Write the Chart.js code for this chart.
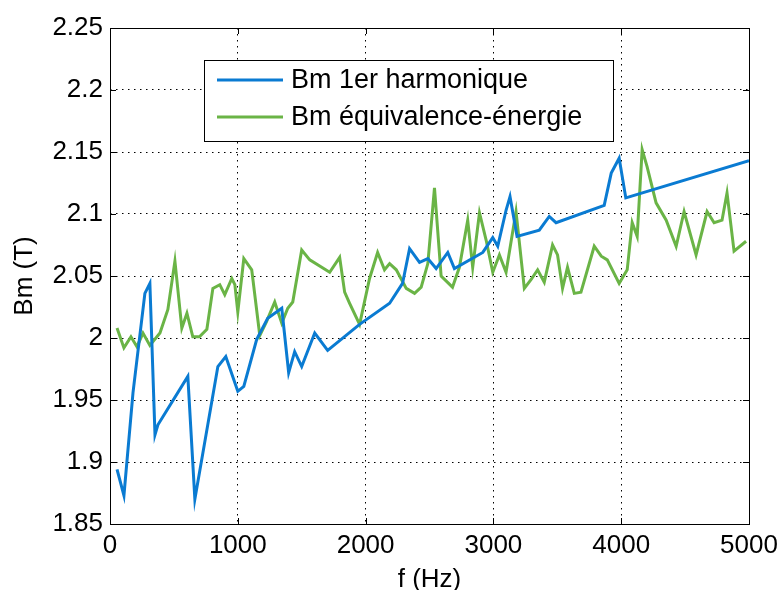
<!DOCTYPE html>
<html>
<head>
<meta charset="utf-8">
<script src="https://cdn.jsdelivr.net/npm/chart.js@4.4.1/dist/chart.umd.min.js"></script>
<style>
html,body{margin:0;padding:0;background:#fff;}
#wrap{width:781px;height:590px;position:relative;}
</style>
</head>
<body>
<div id="wrap"><canvas id="c" width="781" height="590"></canvas></div>
<script>
const seriesLabels = ["Bm 1er harmonique", "Bm équivalence-énergie"];
const freqHarm = [55,109,180,273,312,352,375,609,664,844,906,1000,1047,1148,1234,1344,1398,1445,1500,1602,1703,1953,2188,2289,2344,2422,2487,2552,2643,2695,2917,2995,3034,3099,3130,3185,3359,3437,3490,3867,3922,3984,4036,5000];
const bmHarm = [1.894,1.873,1.956,2.036,2.044,1.922,1.930,1.969,1.870,1.977,1.985,1.957,1.961,1.999,2.016,2.024,1.972,1.989,1.977,2.004,1.990,2.011,2.028,2.044,2.072,2.061,2.064,2.056,2.069,2.056,2.069,2.081,2.074,2.103,2.114,2.082,2.087,2.098,2.093,2.107,2.133,2.145,2.113,2.143];
const freqEnergy = [55,109,164,211,258,312,391,453,508,562,602,648,700,758,805,859,898,953,977,1000,1047,1109,1172,1224,1289,1344,1391,1430,1500,1563,1719,1797,1836,1875,1953,2031,2094,2148,2188,2240,2318,2383,2435,2487,2539,2591,2680,2734,2799,2838,2891,2943,2995,3047,3099,3177,3242,3294,3346,3398,3463,3502,3541,3580,3633,3685,3789,3844,3891,3984,4047,4086,4125,4164,4203,4273,4352,4430,4492,4586,4672,4727,4789,4828,4883,4977];
const bmEnergy = [2.008,1.992,2.001,1.993,2.004,1.994,2.004,2.023,2.062,2.008,2.020,2.001,2.001,2.007,2.040,2.043,2.035,2.048,2.043,2.021,2.064,2.055,2.002,2.013,2.029,2.012,2.024,2.029,2.071,2.063,2.053,2.065,2.037,2.028,2.011,2.048,2.069,2.055,2.060,2.055,2.040,2.036,2.041,2.060,2.121,2.050,2.041,2.057,2.095,2.057,2.101,2.079,2.053,2.067,2.053,2.102,2.040,2.047,2.055,2.045,2.075,2.067,2.040,2.057,2.036,2.037,2.074,2.066,2.063,2.044,2.055,2.093,2.082,2.152,2.138,2.109,2.095,2.074,2.102,2.067,2.102,2.093,2.095,2.117,2.070,2.078];
const xTicks = [0,1000,2000,3000,4000,5000];
const yTicks = [1.85,1.9,1.95,2,2.05,2.1,2.15,2.2,2.25];
const xTitle = "f (Hz)";
const yTitle = "Bm (T)";
const colors = ["#0a7bd2", "#6ab446"];

const FONT = "'Liberation Sans', Arial, sans-serif";

const toPts = (xs, ys) => xs.map((x, i) => ({x: x, y: ys[i]}));

// MATLAB-like inward ticks, box, and legend
const matlabPlugin = {
  id: 'matlab',
  afterDraw(chart) {
    const {ctx, chartArea: a, scales} = chart;
    ctx.save();
    ctx.strokeStyle = '#000';
    ctx.lineWidth = 1;
    const L = 6;
    ctx.beginPath();
    xTicks.forEach(v => {
      const px = Math.round(scales.x.getPixelForValue(v)) + 0.5;
      ctx.moveTo(px, a.bottom); ctx.lineTo(px, a.bottom - L);
      ctx.moveTo(px, a.top); ctx.lineTo(px, a.top + L);
    });
    yTicks.forEach(v => {
      const py = Math.round(scales.y.getPixelForValue(v)) + 0.5;
      ctx.moveTo(a.left, py); ctx.lineTo(a.left + L, py);
      ctx.moveTo(a.right, py); ctx.lineTo(a.right - L, py);
    });
    ctx.stroke();
    ctx.strokeRect(Math.round(a.left) + 0.5, Math.round(a.top) + 0.5, Math.round(a.right - a.left), Math.round(a.bottom - a.top));

    // legend
    const bx = 204, by = 60, bw = 409, bh = 81;
    ctx.fillStyle = '#fff';
    ctx.fillRect(bx, by, bw, bh);
    ctx.strokeStyle = '#000';
    ctx.strokeRect(bx + 0.5, by + 0.5, bw, bh);
    ctx.font = '27px ' + FONT;
    ctx.textBaseline = 'middle';
    ctx.textAlign = 'left';
    const rows = [80, 117];
    chart.data.datasets.forEach((ds, i) => {
      ctx.strokeStyle = ds.borderColor;
      ctx.lineWidth = 3;
      ctx.beginPath();
      ctx.moveTo(217, rows[i]); ctx.lineTo(283, rows[i]);
      ctx.stroke();
      ctx.fillStyle = '#000';
      ctx.fillText(ds.label, 291, rows[i] + 1);
    });
    ctx.restore();
  }
};

new Chart(document.getElementById('c'), {
  type: 'line',
  data: {
    datasets: [
      {label: seriesLabels[0], data: toPts(freqHarm, bmHarm), borderColor: colors[0], backgroundColor: colors[0], borderWidth: 3, pointRadius: 0, tension: 0, fill: false},
      {label: seriesLabels[1], data: toPts(freqEnergy, bmEnergy), borderColor: colors[1], backgroundColor: colors[1], borderWidth: 3, pointRadius: 0, tension: 0, fill: false}
    ]
  },
  options: {
    responsive: false,
    animation: false,
    devicePixelRatio: 1,
    layout: {padding: {left: 0, right: 32, top: 28, bottom: 0}},
    plugins: {legend: {display: false}, tooltip: {enabled: false}},
    scales: {
      x: {
        type: 'linear', min: 0, max: 5000,
        afterBuildTicks: s => { s.ticks = xTicks.map(v => ({value: v})); },
        afterFit: s => { s.height = 66; s.paddingRight = 0; s.paddingLeft = 0; },
        ticks: {color: '#000', font: {family: FONT, size: 26}, padding: 6, maxRotation: 0, autoSkip: false, callback: v => String(v)},
        grid: {color: '#000', lineWidth: 1, drawTicks: false, tickLength: 0},
        border: {display: false, dash: [1.5, 4.5]},
        title: {display: true, text: xTitle, color: '#000', font: {family: FONT, size: 26, lineHeight: 0.8}, padding: {top: 0, bottom: 0}}
      },
      y: {
        type: 'linear', min: 1.85, max: 2.25,
        afterBuildTicks: s => { s.ticks = yTicks.map(v => ({value: v})); },
        afterFit: s => { s.width = 110; },
        ticks: {color: '#000', font: {family: FONT, size: 26}, padding: 7, autoSkip: false, callback: v => String(+v.toFixed(2))},
        grid: {color: '#000', lineWidth: 1, drawTicks: false, tickLength: 0},
        border: {display: false, dash: [1.5, 4.5]},
        title: {display: true, text: yTitle, color: '#000', font: {family: FONT, size: 26}, padding: {top: 9, bottom: 0}}
      }
    }
  },
  plugins: [matlabPlugin]
});
</script>
</body>
</html>
